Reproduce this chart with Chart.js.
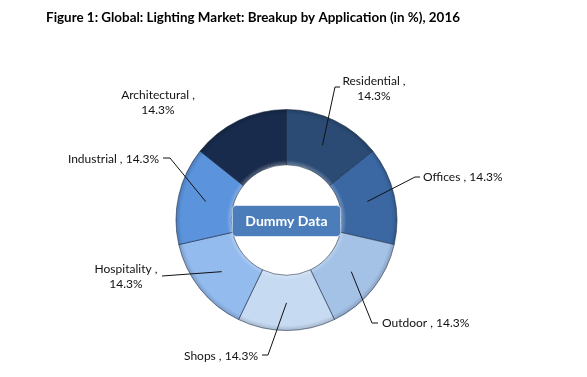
<!DOCTYPE html>
<html>
<head>
<meta charset="utf-8">
<script src="https://cdn.jsdelivr.net/npm/chart.js@4/dist/chart.umd.min.js"></script>
<style>
  html, body { margin: 0; padding: 0; background: #fff; }
  #wrap { width: 587px; height: 377px; }
</style>
</head>
<body>
<div id="wrap"><canvas id="myChart"></canvas></div>
<script>
// data
var categories = ['Residential', 'Offices', 'Outdoor', 'Shops', 'Hospitality', 'Industrial', 'Architectural'];
var shares = [14.3, 14.3, 14.3, 14.3, 14.3, 14.3, 14.3];
var sliceColors = ['#2b4b75', '#3b68a3', '#a4c1e6', '#c6daf2', '#93bbee', '#5b93dc', '#182b4c'];

var titleText = 'Figure 1: Global: Lighting Market: Breakup by Application (in %), 2016';
var centerText = 'Dummy Data';

// label placement, offsets from the donut centre (lines, text x/y, leader elbow + end)
var labelLayout = [
  { lines: 2, x: 87.5, y: -139, align: 'center', leader: [[48.5, -133], [53.5, -133]] },
  { lines: 1, x: 136.5, y: -43, align: 'left', leader: [[128.5, -43], [133.5, -43]] },
  { lines: 1, x: 95.5, y: 103, align: 'left', leader: [[85.5, 103], [91.5, 103]] },
  { lines: 1, x: -28.5, y: 136, align: 'right', leader: [[-18.5, 135], [-24.5, 135]] },
  { lines: 2, x: -160.5, y: 49, align: 'center', leader: [[-124.5, 56]] },
  { lines: 1, x: -127.5, y: -61, align: 'right', leader: [[-116.5, -62], [-123.5, -62]] },
  { lines: 2, x: -128.5, y: -125, align: 'center', leader: null }
];

function shade(hex, amt) {
  var n = parseInt(hex.slice(1), 16);
  var r = (n >> 16) & 255, g = (n >> 8) & 255, b = n & 255;
  function f(c) { return Math.max(0, Math.min(255, Math.round(amt > 0 ? c + (255 - c) * amt : c * (1 + amt)))); }
  return 'rgb(' + f(r) + ',' + f(g) + ',' + f(b) + ')';
}

function sliceFill(ctx) {
  var base = sliceColors[ctx.dataIndex];
  var area = ctx.chart.chartArea;
  if (!area) return base;
  var cx = (area.left + area.right) / 2, cy = (area.top + area.bottom) / 2;
  var outer = Math.min(area.right - area.left, area.bottom - area.top) / 2;
  var inner = outer * 0.5;
  var g = ctx.chart.ctx.createRadialGradient(cx, cy, inner, cx, cy, outer);
  g.addColorStop(0, shade(base, 0.25));
  g.addColorStop(0.08, base);
  g.addColorStop(0.9, base);
  g.addColorStop(1, shade(base, -0.18));
  return g;
}

var decorPlugin = {
  id: 'decor',
  beforeDraw: function (chart) {
    var c = chart.ctx;
    c.save();
    c.fillStyle = '#000';
    c.font = 'bold 13.4px Lato, "Open Sans", sans-serif';
    c.textAlign = 'center';
    c.textBaseline = 'middle';
    c.fillText(titleText, 253, 18);
    c.restore();
  },
  afterDatasetsDraw: function (chart) {
    var c = chart.ctx;
    var arcs = chart.getDatasetMeta(0).data;
    var cx = arcs[0].x, cy = arcs[0].y;
    c.save();
    c.font = '12px Lato, "Open Sans", sans-serif';
    c.fillStyle = '#111';
    c.strokeStyle = '#111';
    c.lineWidth = 1;
    c.textBaseline = 'middle';
    arcs.forEach(function (arc, i) {
      var lay = labelLayout[i];
      var txt = lay.lines === 2
        ? [categories[i] + ' ,', shares[i] + '%']
        : [categories[i] + ' , ' + shares[i] + '%'];
      c.textAlign = lay.align;
      txt.forEach(function (t, k) { c.fillText(t, cx + lay.x, cy + lay.y + k * 15); });
      if (lay.leader) {
        var mid = (arc.startAngle + arc.endAngle) / 2;
        var r = (arc.innerRadius + arc.outerRadius) / 2;
        c.beginPath();
        c.moveTo(cx + Math.cos(mid) * r, cy + Math.sin(mid) * r);
        lay.leader.forEach(function (p) { c.lineTo(cx + p[0], cy + p[1]); });
        c.stroke();
      }
    });
    // centre badge
    var inner = arcs[0].innerRadius;
    var w = inner * 2 - 2, h = 31;
    c.beginPath();
    c.roundRect(cx - w / 2, cy - h / 2 + 1, w, h, 4);
    c.fillStyle = '#4a7dba';
    c.fill();
    c.strokeStyle = 'rgba(255,255,255,0.6)';
    c.stroke();
    c.fillStyle = '#fff';
    c.font = 'bold 14px Lato, "Open Sans", sans-serif';
    c.textAlign = 'center';
    c.fillText(centerText, cx, cy + 1);
    c.restore();
  }
};

var data = {
  labels: categories,
  datasets: [{
    data: shares,
    backgroundColor: sliceFill,
    borderColor: 'rgba(20,35,60,0.55)',
    borderWidth: 1
  }]
};

var config = {
  type: 'doughnut',
  data: data,
  options: {
    responsive: true,
    maintainAspectRatio: false,
    animation: false,
    cutout: '50%',
    layout: { padding: { top: 109, bottom: 46, left: 0, right: 14 } },
    plugins: {
      legend: { display: false },
      tooltip: { enabled: false }
    }
  },
  plugins: [decorPlugin]
};

var myChart = new Chart(document.getElementById('myChart'), config);
</script>
</body>
</html>
